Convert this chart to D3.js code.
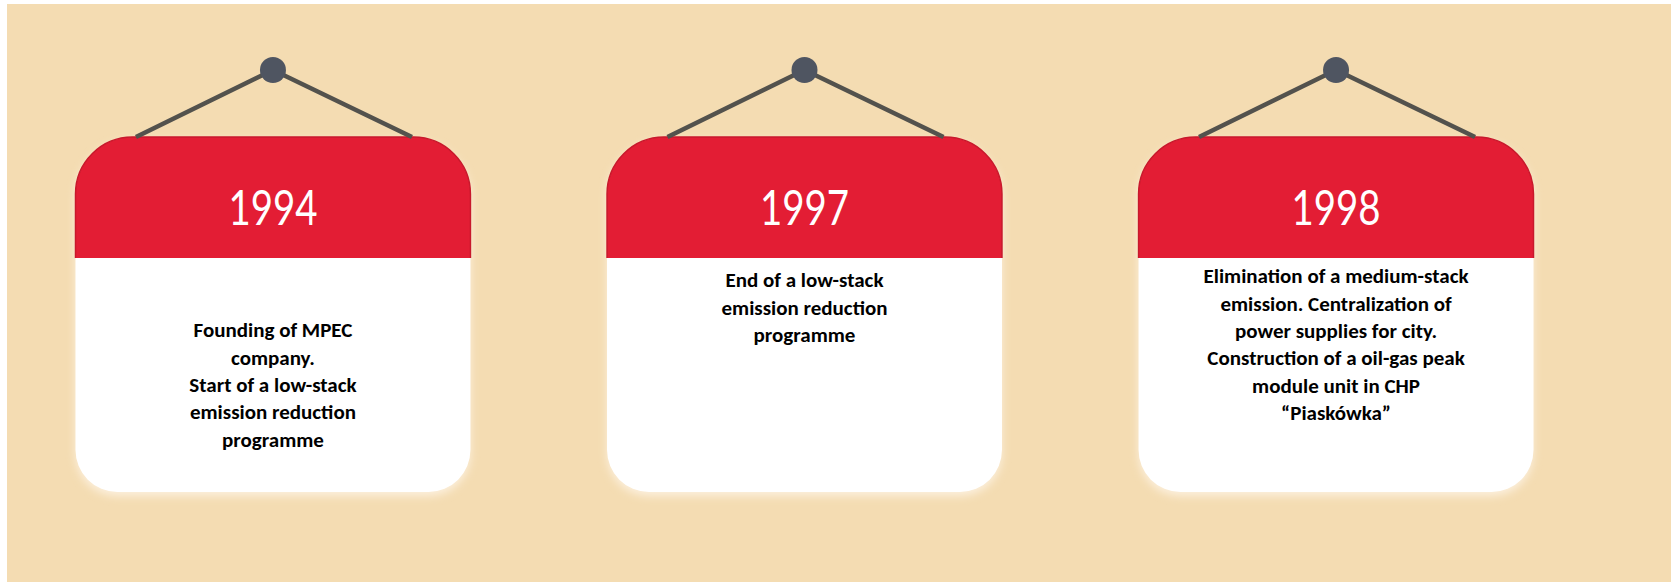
<!DOCTYPE html>
<html>
<head>
<meta charset="UTF-8">
<script src="https://d3js.org/d3.v7.min.js"></script>
<style>
    body {
        margin: 0;
        background: #ffffff;
    }
    svg {
        display: block;
    }
    .year {
        font-family: Lato, "Open Sans", sans-serif;
        font-weight: 400;
        fill: #ffffff;
    }
    .desc {
        font-family: Carlito, Calibri, Lato, sans-serif;
        font-weight: 700;
        fill: #000000;
    }
</style>
</head>
<body>
<svg width="1671" height="582"></svg>
<script>
    // timeline data
    const years = ["1994", "1997", "1998"];
    const descriptions = [
        ["Founding of MPEC", "company.", "Start of a low-stack", "emission reduction", "programme"],
        ["End of a low-stack", "emission reduction", "programme"],
        ["Elimination of a medium-stack", "emission. Centralization of", "power supplies for city.",
         "Construction of a oil-gas peak", "module unit in CHP", "\u201cPiask\u00f3wka\u201d"]
    ];
    const firstLineY = [330, 280, 276];

    const W = 1671, H = 582;
    const cardTop = 137, redBottom = 258, cardBottom = 492;
    const rTop = 57, rBottom = 42;
    const pinY = 70;
    const lineHeight = 27.3;

    const svg = d3.select("svg");

    // beige background with the thin white border on top/left
    svg.append("rect")
        .attr("x", 7).attr("y", 4)
        .attr("width", W - 7).attr("height", H - 4)
        .attr("fill", "#f4dcb2");

    const defs = svg.append("defs");
    defs.append("filter")
        .attr("id", "glow")
        .attr("x", "-10%").attr("y", "-10%")
        .attr("width", "120%").attr("height", "120%")
        .append("feGaussianBlur")
        .attr("stdDeviation", 4);

    const x = d3.scaleBand()
        .domain(years)
        .range([75.5, 1533.5])
        .paddingInner(0.257)
        .paddingOuter(0);

    const y = d3.scaleLinear()
        .domain([0, 1])
        .range([0, lineHeight]);

    function cardPath(x0, w) {
        const x1 = x0 + w;
        return `M${x0},${cardTop + rTop}
                A${rTop},${rTop} 0 0 1 ${x0 + rTop},${cardTop}
                L${x1 - rTop},${cardTop}
                A${rTop},${rTop} 0 0 1 ${x1},${cardTop + rTop}
                L${x1},${cardBottom - rBottom}
                A${rBottom},${rBottom} 0 0 1 ${x1 - rBottom},${cardBottom}
                L${x0 + rBottom},${cardBottom}
                A${rBottom},${rBottom} 0 0 1 ${x0},${cardBottom - rBottom}Z`;
    }

    years.forEach((yr, i) => {
        const x0 = x(yr), w = x.bandwidth(), cx = x0 + w / 2;
        const g = svg.append("g");

        defs.append("clipPath")
            .attr("id", "top" + i)
            .append("rect")
            .attr("x", x0 - 2).attr("y", cardTop - 2)
            .attr("width", w + 4).attr("height", redBottom - cardTop + 2);

        // soft halo under the card
        g.append("path")
            .attr("d", cardPath(x0, w))
            .attr("fill", "#fcf0de")
            .attr("filter", "url(#glow)")
            .attr("transform", "translate(0,4)");

        // white body
        g.append("path")
            .attr("d", cardPath(x0, w))
            .attr("fill", "#ffffff");

        // red header
        g.append("path")
            .attr("d", cardPath(x0, w))
            .attr("fill", "#e31d34")
            .attr("stroke", "#c8192c")
            .attr("stroke-width", 1.5)
            .attr("clip-path", `url(#top${i})`);

        // hanger strings and pin
        g.append("path")
            .attr("d", `M${cx - 137},${cardTop} L${cx},${pinY} L${cx + 139},${cardTop}`)
            .attr("fill", "none")
            .attr("stroke", "#53524d")
            .attr("stroke-width", 4.5)
            .attr("stroke-linejoin", "round");
        g.append("circle")
            .attr("cx", cx).attr("cy", pinY)
            .attr("r", 13)
            .attr("fill", "#4f5561");

        g.append("text")
            .attr("class", "year")
            .attr("transform", `translate(${cx},225) scale(0.8,1)`)
            .attr("text-anchor", "middle")
            .attr("font-size", 48)
            .text(yr);

        g.selectAll("text.desc")
            .data(descriptions[i])
            .join("text")
            .attr("class", "desc")
            .attr("x", cx)
            .attr("y", (d, j) => firstLineY[i] + y(j))
            .attr("dy", "0.35em")
            .attr("text-anchor", "middle")
            .attr("font-size", 21)
            .text(d => d);
    });
</script>
</body>
</html>
